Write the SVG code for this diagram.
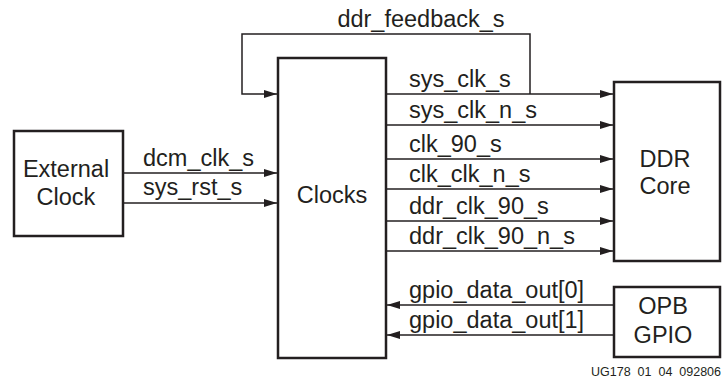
<svg xmlns="http://www.w3.org/2000/svg" width="724" height="379" viewBox="0 0 724 379">
<style>
.box{fill:#fff;stroke:#231f20;stroke-width:2.5}
.lbl{font-family:"Liberation Sans",Arial,sans-serif;font-size:23.5px;fill:#231f20}
.ln{fill:none;stroke:#231f20;stroke-width:1.5}
.foot{font-family:"Liberation Sans",Arial,sans-serif;font-size:12.5px;fill:#231f20;white-space:pre}
</style>
<defs>
<marker id="ah" markerUnits="userSpaceOnUse" markerWidth="14" markerHeight="10" refX="13" refY="5" orient="auto">
<path d="M0,1 L13,5 L0,9 Z" fill="#231f20"/>
</marker>
</defs>
<rect width="724" height="379" fill="#fff"/>
<g id="connectors">
<polyline class="ln" points="530,94 530,34 242,34 242,94 277,94" marker-end="url(#ah)"/>
<text class="lbl" x="421" y="27" text-anchor="middle">ddr_feedback_s</text>
<line class="ln" x1="123" y1="173" x2="277" y2="173" marker-end="url(#ah)"/>
<text class="lbl" x="143" y="166">dcm_clk_s</text>
<line class="ln" x1="123" y1="203" x2="277" y2="203" marker-end="url(#ah)"/>
<text class="lbl" x="143" y="195">sys_rst_s</text>
<line class="ln" x1="386" y1="94" x2="613" y2="94" marker-end="url(#ah)"/>
<text class="lbl" x="409" y="87">sys_clk_s</text>
<line class="ln" x1="386" y1="125" x2="613" y2="125" marker-end="url(#ah)"/>
<text class="lbl" x="409" y="118">sys_clk_n_s</text>
<line class="ln" x1="386" y1="159" x2="613" y2="159" marker-end="url(#ah)"/>
<text class="lbl" x="409" y="152">clk_90_s</text>
<line class="ln" x1="386" y1="189" x2="613" y2="189" marker-end="url(#ah)"/>
<text class="lbl" x="409" y="182">clk_clk_n_s</text>
<line class="ln" x1="386" y1="221" x2="613" y2="221" marker-end="url(#ah)"/>
<text class="lbl" x="409" y="214">ddr_clk_90_s</text>
<line class="ln" x1="386" y1="251" x2="613" y2="251" marker-end="url(#ah)"/>
<text class="lbl" x="409" y="244">ddr_clk_90_n_s</text>
<line class="ln" x1="614" y1="305" x2="387" y2="305" marker-end="url(#ah)"/>
<text class="lbl" x="409" y="298">gpio_data_out[0]</text>
<line class="ln" x1="614" y1="335" x2="387" y2="335" marker-end="url(#ah)"/>
<text class="lbl" x="409" y="328">gpio_data_out[1]</text>
</g>
<g id="external_clock">
<rect class="box" x="14" y="131" width="109" height="105"/>
<text class="lbl" x="66" y="177" text-anchor="middle">External</text>
<text class="lbl" x="66" y="205" text-anchor="middle">Clock</text>
</g>
<g id="clocks">
<rect class="box" x="278" y="58" width="108" height="300"/>
<text class="lbl" x="332" y="203" text-anchor="middle">Clocks</text>
</g>
<g id="ddr_core">
<rect class="box" x="614" y="82" width="106" height="179"/>
<text class="lbl" x="665" y="167" text-anchor="middle">DDR</text>
<text class="lbl" x="665" y="194" text-anchor="middle">Core</text>
</g>
<g id="opb_gpio">
<rect class="box" x="614" y="287" width="106" height="70"/>
<text class="lbl" x="663" y="314" text-anchor="middle">OPB</text>
<text class="lbl" x="663" y="343" text-anchor="middle">GPIO</text>
</g>
<text class="foot" x="721" y="376" text-anchor="end" xml:space="preserve">UG178  01  04  092806</text>
</svg>
